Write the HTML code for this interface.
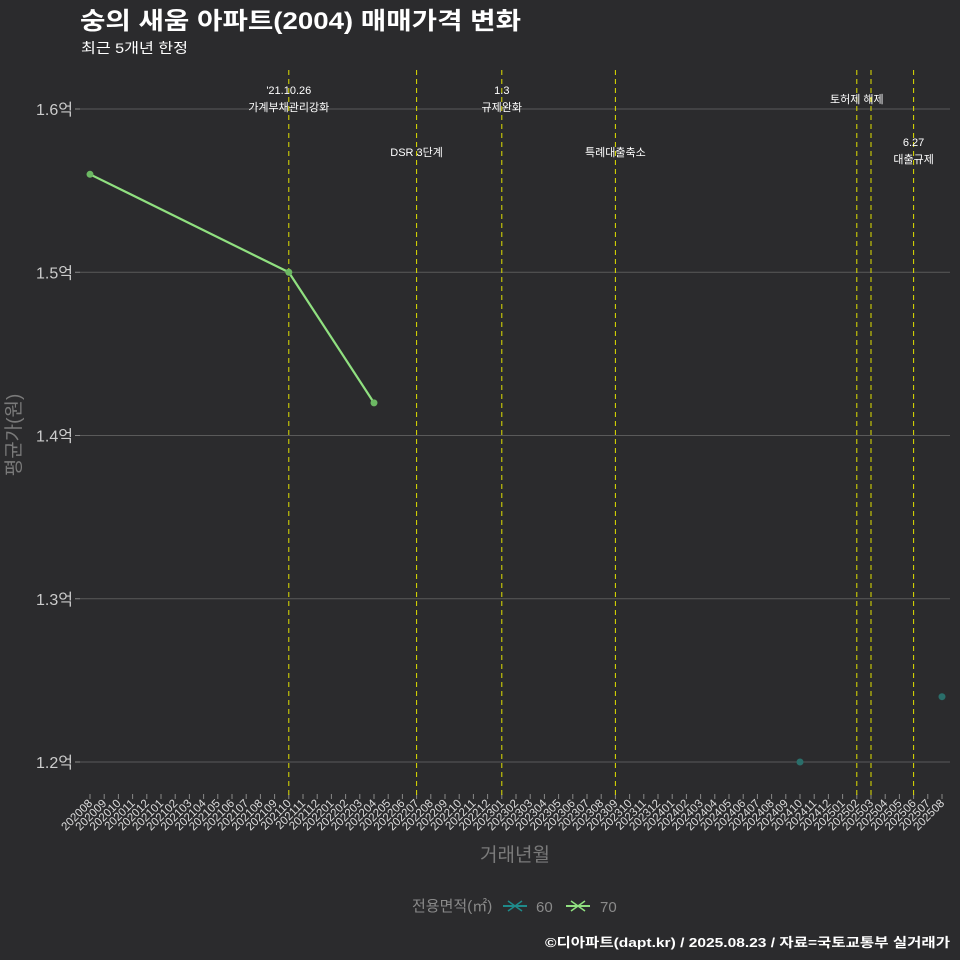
<!DOCTYPE html>
<html><head><meta charset="utf-8"><style>
body{margin:0;background:#2b2b2d;}
svg{display:block;font-family:"Liberation Sans","Noto Sans CJK KR",sans-serif;}
</style></head><body>
<svg id="c" width="960" height="960" viewBox="0 0 960 960">
<rect width="960" height="960" fill="#2b2b2d"/>
<text x="80" y="29" font-size="24" font-weight="bold" fill="#ffffff" textLength="441" lengthAdjust="spacingAndGlyphs">숭의 새움 아파트(2004) 매매가격 변화</text>
<text x="81" y="53" font-size="14" fill="#ffffff" textLength="107" lengthAdjust="spacingAndGlyphs">최근 5개년 한정</text>
<text x="20" y="435" font-size="19" fill="#7a7a7a" text-anchor="middle" transform="rotate(-90 20 435)">평균가(원)</text>
<text x="515" y="861" font-size="19" fill="#7a7a7a" text-anchor="middle">거래년월</text>
<g id="legend">
<text x="412" y="911" font-size="15" fill="#8a8a8a">전용면적(㎡)</text>
<g><line x1="503" y1="906" x2="527" y2="906" stroke="#1f8a8a" stroke-width="2"/><path d="M508 901 L522 911 M508 911 L522 901" stroke="#1f8a8a" stroke-width="1.5"/><text x="536" y="912" font-size="15" fill="#8a8a8a">60</text></g>
<g><line x1="566" y1="906" x2="590" y2="906" stroke="#90e080" stroke-width="2"/><path d="M571 901 L585 911 M571 911 L585 901" stroke="#90e080" stroke-width="1.5"/><text x="600" y="912" font-size="15" fill="#8a8a8a">70</text></g>
</g>
<text x="950" y="947" font-size="13" font-weight="bold" fill="#ffffff" text-anchor="end" textLength="405" lengthAdjust="spacingAndGlyphs">©디아파트(dapt.kr) / 2025.08.23 / 자료=국토교통부 실거래가</text>
<g id="plot"></g>
</svg>
<script>
const months=[];for(let y=2020,m=8;y*100+m<=202508;){months.push(String(y*100+m));m++;if(m>12){m=1;y++;}}
const yTicks=[1.2,1.3,1.4,1.5,1.6];
const s70Months=['202008','202110','202204'];
const s70Values=[1.56,1.50,1.42];
const s60Months=['202410','202508'];
const s60Values=[1.20,1.24];
const eventMonths=['202110','202207','202301','202309','202502','202503','202506'];
const eventLabels=[["'21.10.26","가계부채관리강화"],["DSR 3단계"],["1.3","규제완화"],["특례대출축소"],["토허제 해제"],[],["6.27","대출규제"]];
const eventLabelY=[94,156,94,156,103,0,146];
const X=i=>90+i*(942-90)/(months.length-1);
const xm=m=>X(months.indexOf(m));
const Y=v=>762-(v-1.2)*1632.5;
const g=document.getElementById('plot');const NS='http://www.w3.org/2000/svg';
function mk(t,a,p){const e=document.createElementNS(NS,t);for(const k in a)e.setAttribute(k,a[k]);(p||g).appendChild(e);return e;}
yTicks.forEach(v=>{
const l=mk('line',{x1:80,x2:950,y1:Y(v),y2:Y(v),stroke:'#5a5a5a','stroke-width':1});


const tk=mk('line',{x1:75,x2:80,y1:Y(v),y2:Y(v),stroke:'#888'});


const t=mk('text',{x:73,y:Y(v)+6,'font-size':16,fill:'#cccccc','text-anchor':'end'});t.textContent=v.toFixed(1)+'억';


});
months.forEach((m,i)=>{
const tk=mk('line',{x1:X(i),x2:X(i),y1:794,y2:799,stroke:'#888'});


const t=mk('text',{x:X(i)+3,y:804,'font-size':11.5,fill:'#dddddd','text-anchor':'end',transform:`rotate(-45 ${X(i)+3} 804)`});t.textContent=m;


});
eventMonths.forEach((m,k)=>{
const l=mk('line',{x1:xm(m),x2:xm(m),y1:70,y2:795,stroke:'#e0e000','stroke-width':1,'stroke-dasharray':'5,4'});


eventLabels[k].forEach((s,j)=>{const t=mk('text',{x:xm(m),y:eventLabelY[k]+j*17,'font-size':11,fill:'#ffffff','text-anchor':'middle'});t.textContent=s;

});
});
const p=mk('polyline',{points:s70Months.map((m,i)=>xm(m)+','+Y(s70Values[i])).join(' '),fill:'none',stroke:'#90e080','stroke-width':2.2});


s70Months.forEach((m,i)=>{const c=mk('circle',{cx:xm(m),cy:Y(s70Values[i]),r:3.5,fill:'#6cb863'});

});
s60Months.forEach((m,i)=>{const c=mk('circle',{cx:xm(m),cy:Y(s60Values[i]),r:3.5,fill:'#2a6e6a'});

});
</script>
</body></html>
